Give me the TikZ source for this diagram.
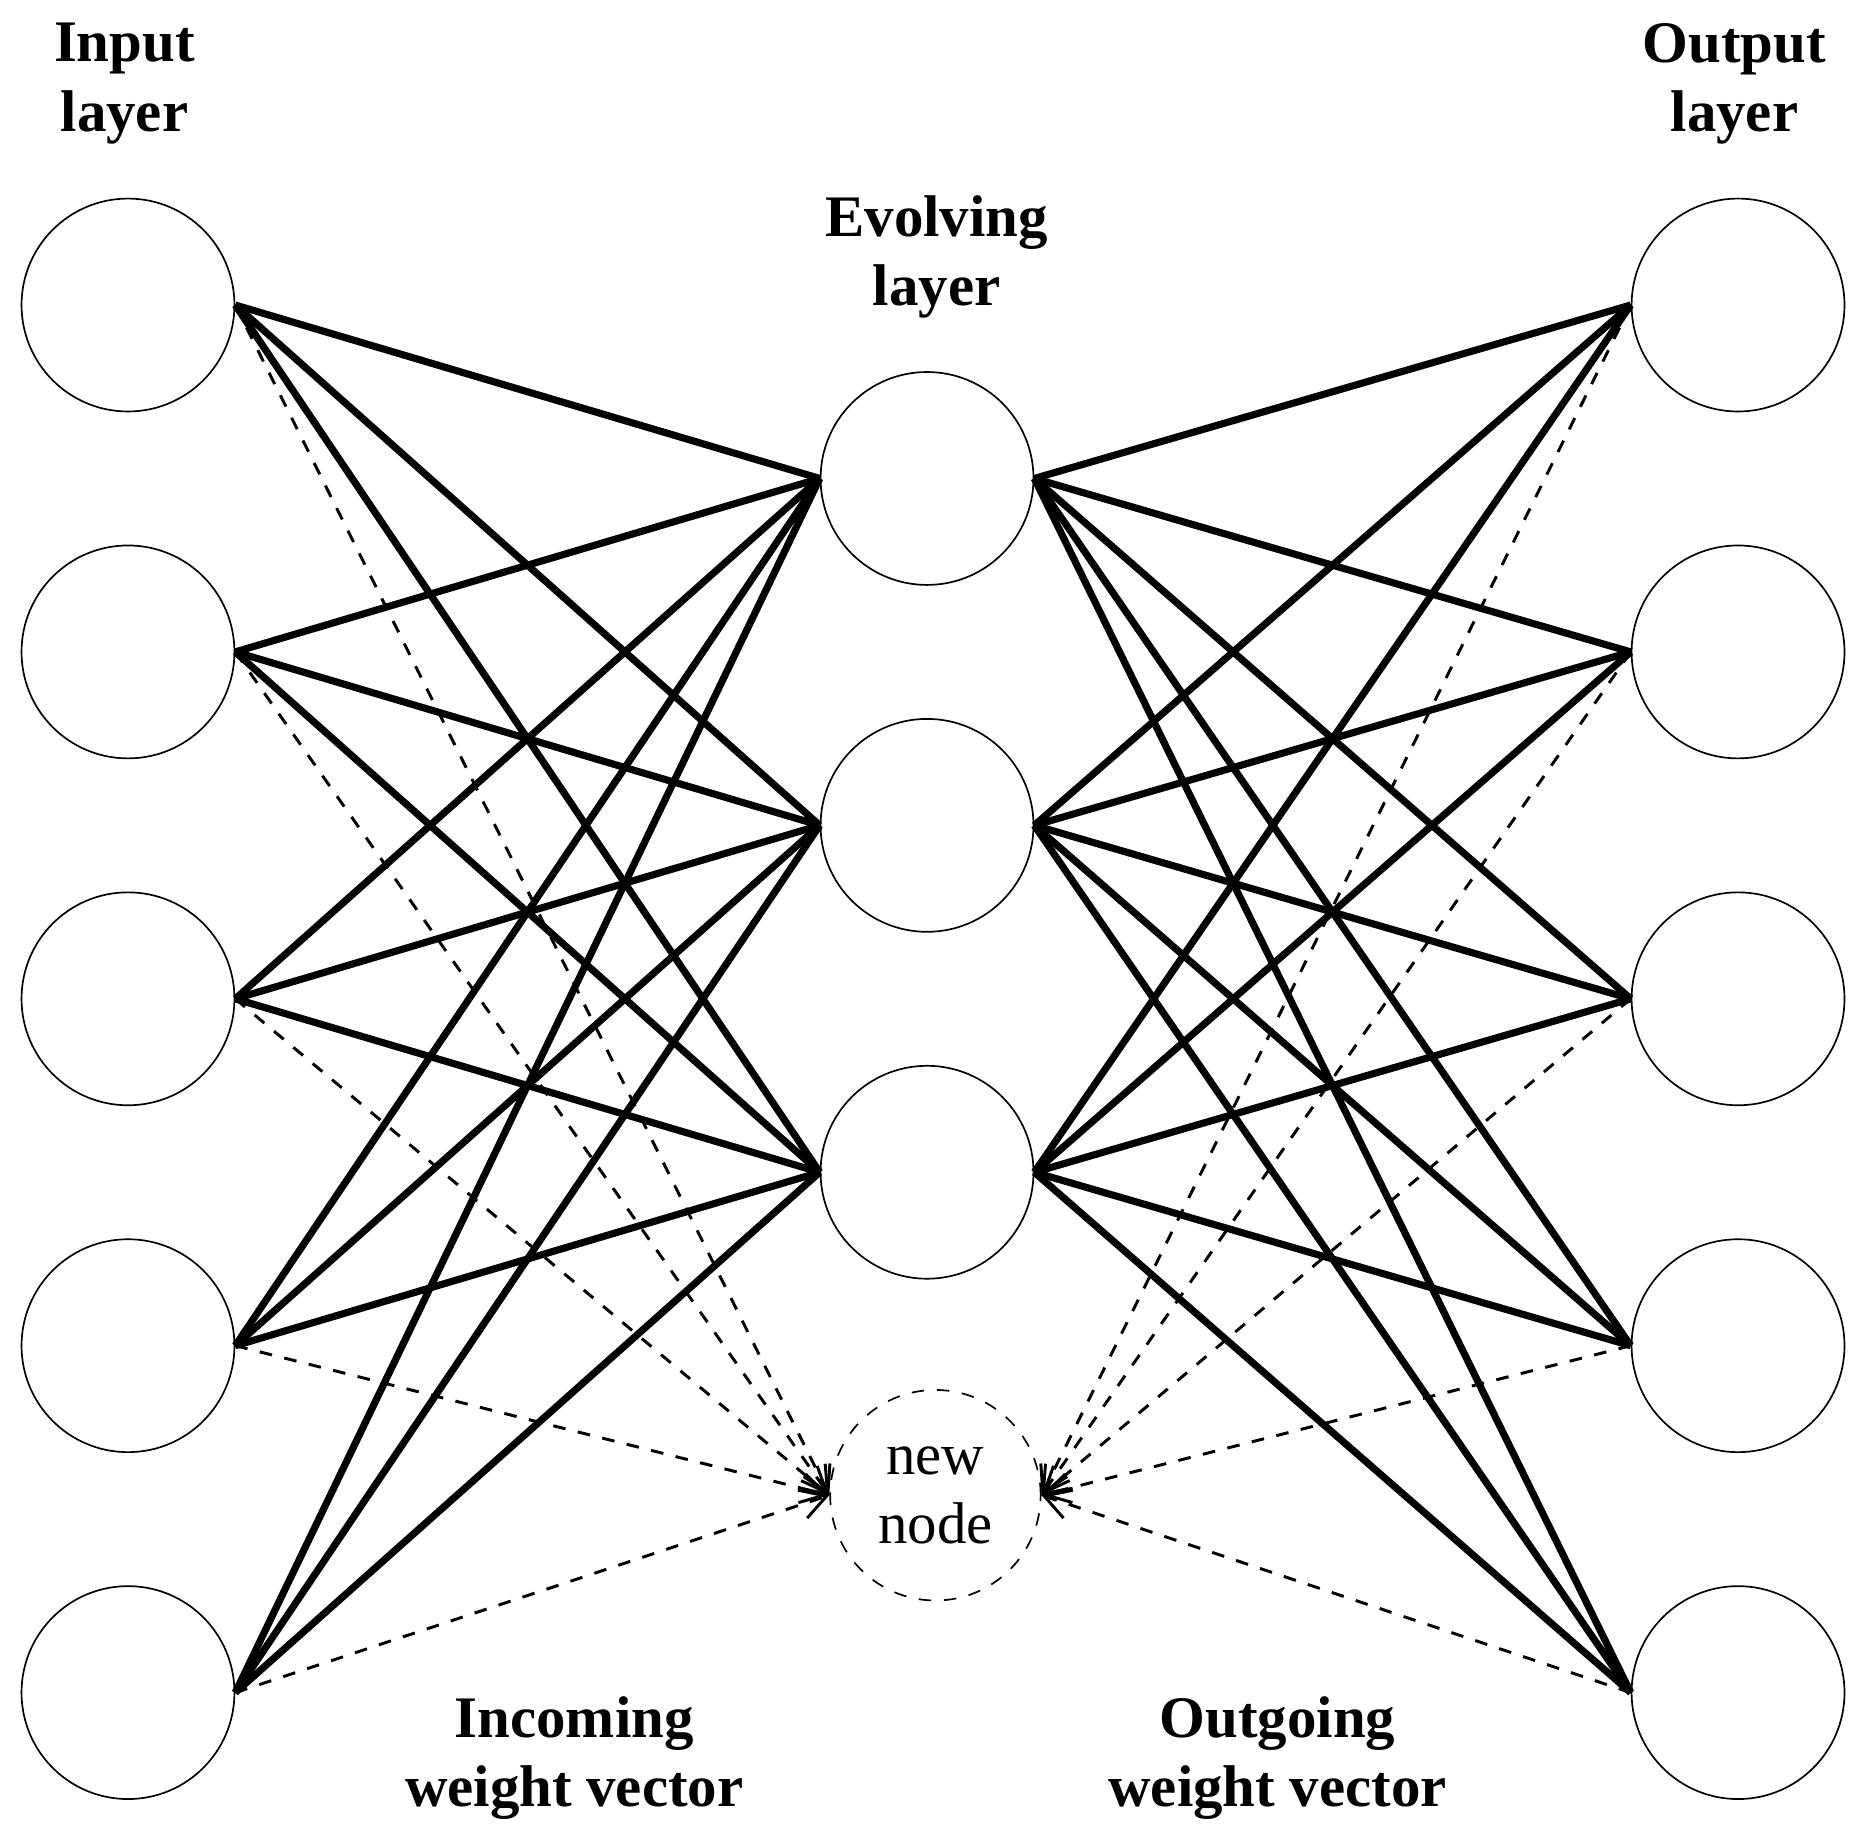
\documentclass[tikz,border=0pt]{standalone}
\usepackage{fontspec}
\setmainfont{Liberation Serif}
\usetikzlibrary{arrows.meta}
\begin{document}
\begin{tikzpicture}[
    neuron/.style={circle, draw, thin, minimum size=1.78cm, inner sep=0pt},
    link/.style={line width=1.7pt},
    newlink/.style={dashed, line width=0.7pt, -{Straight Barb[length=6pt,width=7pt]}},
    title/.style={font=\fontsize{14}{16.5}\selectfont\bfseries, align=center}
]
\useasboundingbox (0,0) rectangle (15.6,-15.44);

% Couches
\foreach \i/\y in {1/2.55,2/5.45,3/8.35,4/11.25,5/14.15} {
    \node[neuron] (in\i) at (1.07,-\y) {};
    \node[neuron] (out\i) at (14.53,-\y) {};
}
\foreach \j/\y in {1/4.0,2/6.9,3/9.8}
    \node[neuron] (ev\j) at (7.75,-\y) {};
\node[neuron, dashed, minimum size=1.76cm, align=center,
      font=\fontsize{14}{16.5}\selectfont] (new) at (7.82,-12.5) {new\\node};

% Connexions
\foreach \i in {1,...,5} {
    \foreach \j in {1,2,3} {
        \draw[link] (in\i.east) -- (ev\j.west);
        \draw[link] (ev\j.east) -- (out\i.west);
    }
    \draw[newlink] (in\i.east) -- (new.west);
    \draw[newlink] (out\i.west) -- (new.east);
}

% Titres
\node[title] (tin) at (1.04,-0.7) {Input\\layer};
\node[title] (tout) at (14.5,-0.7) {Output\\layer};
\node[title] (tev) at (7.83,-2.15) {Evolving\\layer};
\node[title] (tinc) at (4.8,-14.7) {Incoming\\weight vector};
\node[title] (tog) at (10.68,-14.7) {Outgoing\\weight vector};
\end{tikzpicture}
\end{document}
